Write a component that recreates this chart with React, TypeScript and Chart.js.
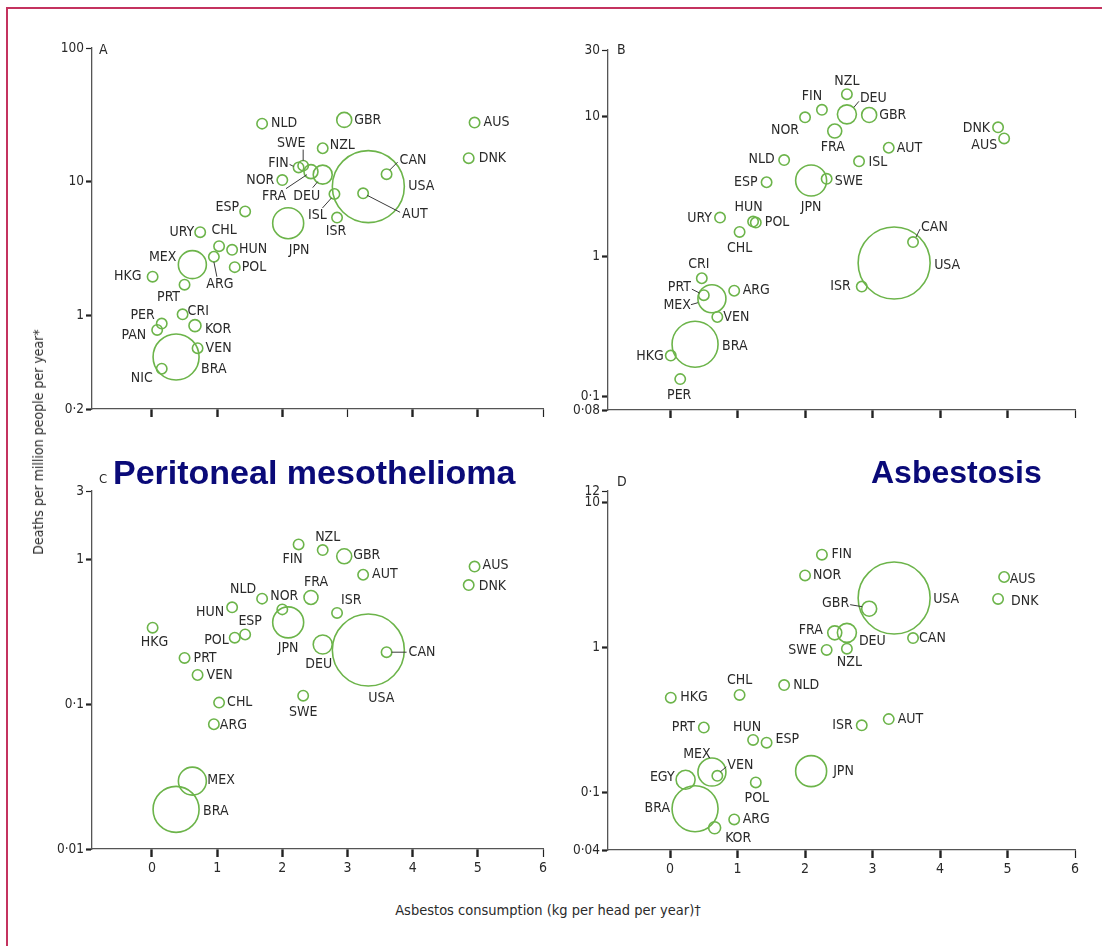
import React, { useEffect, useRef } from "react";
import { Chart, registerables } from "chart.js";
Chart.register(...registerables);

// ---------- DATA ----------
// Asbestos consumption (kg per head per year) by country
const consumption: Record<string, number> = {
  HKG: 0.01, PAN: 0.08, PER: 0.15, NIC: 0.15, EGY: 0.23, BRA: 0.37, CRI: 0.47,
  PRT: 0.5, MEX: 0.62, KOR: 0.66, VEN: 0.7, URY: 0.74, ARG: 0.95, CHL: 1.03,
  HUN: 1.23, POL: 1.27, ESP: 1.43, NLD: 1.69, NOR: 2.0, JPN: 2.09, FIN: 2.25,
  SWE: 2.32, FRA: 2.44, DEU: 2.62, NZL: 2.62, ISL: 2.8, ISR: 2.84, GBR: 2.95,
  AUT: 3.24, USA: 3.32, CAN: 3.6, DNK: 4.86, AUS: 4.95,
};

// Panel A
const countriesA = ["NLD","GBR","AUS","DNK","NZL","SWE","FIN","NOR","FRA","DEU","CAN","USA","AUT","ISL","ISR","ESP","JPN","URY","CHL","HUN","POL","ARG","MEX","HKG","PRT","CRI","PER","PAN","KOR","VEN","BRA","NIC"];
const deathsA = [27.2,29.0,27.7,15.0,17.8,13.2,12.8,10.3,11.9,11.3,11.4,9.2,8.2,8.1,5.4,6.0,4.9,4.2,3.3,3.1,2.3,2.75,2.4,1.95,1.7,1.02,0.87,0.78,0.84,0.57,0.49,0.4];
const yTicksA = [0.2, 1, 10, 100];

// Panel B
const countriesB = ["NZL","FIN","DEU","GBR","NOR","FRA","DNK","AUS","AUT","ISL","NLD","SWE","JPN","ESP","URY","HUN","POL","CHL","CAN","USA","CRI","ISR","ARG","PRT","MEX","VEN","BRA","HKG","PER"];
const deathsB = [14.5,11.2,10.4,10.3,9.9,7.9,8.4,7.0,6.0,4.8,4.9,3.6,3.5,3.4,1.9,1.78,1.75,1.5,1.27,0.9,0.7,0.61,0.57,0.53,0.5,0.37,0.236,0.196,0.133];
const yTicksB = [0.08, 0.1, 1, 10, 30];

// Panel C
const countriesC = ["FIN","NZL","GBR","AUS","AUT","DNK","FRA","NLD","NOR","HUN","ISR","ESP","JPN","HKG","POL","DEU","CAN","USA","PRT","VEN","SWE","CHL","ARG","MEX","BRA"];
const deathsC = [1.28,1.17,1.06,0.9,0.79,0.67,0.55,0.54,0.455,0.47,0.43,0.305,0.37,0.34,0.29,0.26,0.23,0.238,0.21,0.16,0.115,0.103,0.073,0.0295,0.0188];
const yTicksC = [0.01, 0.1, 1, 3];

// Panel D
const countriesD = ["FIN","NOR","AUS","USA","DNK","GBR","FRA","DEU","CAN","SWE","NZL","NLD","CHL","HKG","PRT","AUT","ISR","HUN","ESP","MEX","VEN","JPN","EGY","POL","BRA","ARG","KOR"];
const deathsD = [4.36,3.14,3.06,2.19,2.16,1.85,1.26,1.26,1.16,0.96,0.98,0.55,0.47,0.45,0.28,0.32,0.29,0.23,0.22,0.138,0.13,0.14,0.122,0.117,0.077,0.065,0.057];
const yTicksD = [0.04, 0.1, 1, 10, 12];

const xTicks = [0, 1, 2, 3, 4, 5, 6];

// ---------- STYLE / LAYOUT ----------
const bubbleRadius: Record<string, number> = {
  USA: 36, BRA: 23, JPN: 15.5, MEX: 14, EGY: 9.5, DEU: 9.5, GBR: 7.5, FRA: 7, KOR: 6,
};
const DEFAULT_R = 5.2;
const GREEN = "#6cb44a";
const TEXT = "#2a2a2a";
const FONT_FAMILY = '"DejaVu Sans Condensed", "Open Sans", sans-serif';
const LABEL_FONT = `14px ${FONT_FAMILY}`;

type Lay = [string, number, number, number[]?];
const layoutA: Record<string, Lay> = {
  NLD: ["l", 9, 0], GBR: ["l", 10, 0], AUS: ["l", 9, 0], DNK: ["l", 10, 0], NZL: ["l", 7, -3],
  SWE: ["c", -12, -22, [0, -5, 0, -16]], FIN: ["r", -10, -4, [-9, -3, -5, -1]], NOR: ["r", -8, 0],
  FRA: ["c", -37, 25, [-25, 17, -4, 3]], DEU: ["c", -16, 22, [-10, 13, -5, 7]],
  CAN: ["l", 13, -14, [3, -4, 11, -12]], USA: ["l", 40, 0], AUT: ["l", 39, 21, [4, 2, 37, 19]],
  ISL: ["c", -17, 21, [-12, 14, -3, 4]], ISR: ["c", -1, 14], ESP: ["r", -6, -4], JPN: ["c", 11, 27],
  URY: ["r", -6, 0], CHL: ["c", 5, -16], HUN: ["l", 7, 0], POL: ["l", 7, 0],
  ARG: ["c", 6, 28, [3, 20, 0, 5]], MEX: ["r", -16, -7], HKG: ["r", -11, 0], PRT: ["c", -16, 13],
  CRI: ["l", 5, -3], PER: ["r", -7, -8], PAN: ["r", -11, 5], KOR: ["l", 10, 4], VEN: ["l", 8, 0],
  BRA: ["l", 25, 12], NIC: ["r", -9, 10],
};
const layoutB: Record<string, Lay> = {
  NZL: ["c", 0, -13], FIN: ["c", -10, -13], DEU: ["l", 13, -16, [7, -7, 12, -13]], GBR: ["l", 10, 0],
  NOR: ["c", -20, 13], FRA: ["c", -2, 16], DNK: ["r", -8, 1], AUS: ["r", -7, 7], AUT: ["l", 8, 1],
  ISL: ["l", 9.5, 1], NLD: ["r", -9.5, -1], SWE: ["l", 8, 3], JPN: ["c", 0, 27], ESP: ["r", -9, 0],
  URY: ["r", -8, 1], HUN: ["c", -4.5, -14], POL: ["l", 9, 0], CHL: ["c", 0, 16],
  CAN: ["l", 8, -15, [3, -5, 7, -13]], USA: ["l", 40, 2], CRI: ["c", -3, -14], ISR: ["r", -11, 0],
  ARG: ["l", 8.5, 0], PRT: ["r", -13, -8, [-12, -6, -4, -2]], MEX: ["r", -21, 7, [-21, 6, -14, 4]],
  VEN: ["l", 6, 0], BRA: ["l", 27, 2], HKG: ["r", -7, 1], PER: ["c", -1, 16],
};
const layoutC: Record<string, Lay> = {
  FIN: ["c", -6, 15], NZL: ["c", 5, -13], GBR: ["l", 9, -1], AUS: ["l", 8, -1], AUT: ["l", 9, 0],
  DNK: ["l", 10, 1], FRA: ["c", 5, -15], NLD: ["c", -19, -9], NOR: ["c", 2, -13], HUN: ["r", -8, 5],
  ISR: ["l", 4, -13], ESP: ["c", 5, -13], JPN: ["c", 0, 26], HKG: ["c", 2, 15], POL: ["r", -6, 3],
  DEU: ["c", -4, 20], CAN: ["l", 22, 0, [5, 0, 20, 0]], USA: ["c", 13, 48], PRT: ["l", 9, 0],
  VEN: ["l", 9, 0], SWE: ["c", 0, 17], CHL: ["l", 8, 0], ARG: ["l", 6, 1], MEX: ["l", 15, -1],
  BRA: ["l", 27, 2],
};
const layoutD: Record<string, Lay> = {
  FIN: ["l", 9.5, 0], NOR: ["l", 8, 0], AUS: ["l", 5.6, 2], USA: ["l", 39, 1], DNK: ["l", 13, 2],
  GBR: ["r", -20, -5, [-19, -4, -7, -2]], FRA: ["r", -12, -2], DEU: ["l", 12, 9], CAN: ["l", 6, 0],
  SWE: ["r", -10, 0], NZL: ["c", 2.5, 14], NLD: ["l", 9, 0], CHL: ["c", 0, -15], HKG: ["l", 9.5, 0],
  PRT: ["r", -9, 0], AUT: ["l", 9, 0], ISR: ["r", -9, 0], HUN: ["c", -6, -13], ESP: ["l", 9, -3],
  MEX: ["c", -15, -18], VEN: ["l", 10, -10, [3, -4, 9, -9]], JPN: ["l", 22, 0], EGY: ["r", -11, -2],
  POL: ["c", 1, 16], BRA: ["r", -25, 0], ARG: ["l", 8.5, 0], KOR: ["l", 10.5, 11],
};

function fmt(v: number): string {
  return String(v).replace(".", "·");
}

function makeLabelPlugin(names: string[], layout: Record<string, Lay>) {
  return {
    id: "countryLabels",
    afterDatasetsDraw(chart: any) {
      const meta = chart.getDatasetMeta(0);
      const ctx = chart.ctx as CanvasRenderingContext2D;
      ctx.save();
      ctx.font = LABEL_FONT;
      ctx.fillStyle = TEXT;
      ctx.strokeStyle = "#3a3a3a";
      ctx.lineWidth = 1;
      ctx.textBaseline = "middle";
      meta.data.forEach((el: any, i: number) => {
        const L = layout[names[i]];
        if (!L) return;
        const [a, dx, dy, leader] = L;
        ctx.textAlign = a === "l" ? "left" : a === "r" ? "right" : "center";
        ctx.fillText(names[i], el.x + dx, el.y + dy);
        if (leader) {
          ctx.beginPath();
          ctx.moveTo(el.x + leader[0], el.y + leader[1]);
          ctx.lineTo(el.x + leader[2], el.y + leader[3]);
          ctx.stroke();
        }
      });
      ctx.restore();
    },
  };
}

type PanelProps = {
  names: string[];
  deaths: number[];
  yTicks: number[];
  layout: Record<string, Lay>;
  showX: boolean;
  thinX: number[];
  left: number; top: number; width: number; height: number;
  pad: { top: number; right: number };
  xHeight: number;
};

function Panel(p: PanelProps) {
  const ref = useRef<HTMLCanvasElement | null>(null);
  useEffect(() => {
    if (!ref.current) return;
    const data = p.names.map((c, i) => ({ x: consumption[c], y: p.deaths[i], r: bubbleRadius[c] ?? DEFAULT_R }));
    const yMax = p.yTicks[p.yTicks.length - 1];
    const chart = new Chart(ref.current, {
      type: "bubble",
      data: {
        datasets: [{
          data,
          backgroundColor: "rgba(0,0,0,0)",
          borderColor: GREEN,
          borderWidth: 1.6,
          hoverBorderWidth: 1.6,
          clip: false as any,
        }],
      },
      options: {
        animation: false,
        responsive: false,
        devicePixelRatio: 1,
        events: [],
        layout: { autoPadding: false, padding: { top: p.pad.top, right: p.pad.right, left: 0, bottom: 0 } },
        plugins: { legend: { display: false }, tooltip: { enabled: false } },
        scales: {
          x: {
            type: "linear",
            min: -0.92,
            max: 6,
            afterBuildTicks: (s: any) => { s.ticks = xTicks.map((v) => ({ value: v })); },
            afterFit: (s: any) => { s.height = p.xHeight; s.paddingLeft = 0; s.paddingRight = 0; },
            grid: {
              display: true, drawOnChartArea: false, drawTicks: true, tickLength: 8,
              tickWidth: (c: any) => (c.tick && p.thinX.includes(c.tick.value) ? 1.2 : 2.4),
              tickColor: "#222",
            },
            border: { display: true, color: "#555", width: 1.3 },
            ticks: {
              display: p.showX,
              padding: 3,
              color: TEXT,
              font: { family: FONT_FAMILY, size: 14 },
              maxRotation: 0,
              autoSkip: false,
              callback: (v: any) => fmt(Number(v)),
            },
          },
          y: {
            type: "logarithmic",
            min: p.yTicks[0],
            max: yMax,
            afterBuildTicks: (s: any) => { s.ticks = p.yTicks.map((v) => ({ value: v })); },
            afterFit: (s: any) => { s.width = 52; s.paddingTop = 0; s.paddingBottom = 0; },
            grid: {
              display: true, drawOnChartArea: false, drawTicks: true, tickLength: 6,
              tickWidth: (c: any) => (c.tick && c.tick.value === yMax ? 1.2 : 2.2),
              tickColor: "#222",
            },
            border: { display: true, color: "#555", width: 1.3 },
            ticks: {
              padding: 2,
              color: TEXT,
              font: { family: FONT_FAMILY, size: 13.5 },
              autoSkip: false,
              callback: (v: any) => fmt(Number(v)),
            },
          },
        },
      },
      plugins: [makeLabelPlugin(p.names, p.layout)],
    } as any);
    return () => chart.destroy();
  }, []);
  return (
    <canvas
      ref={ref}
      width={p.width}
      height={p.height}
      style={{ position: "absolute", left: p.left, top: p.top, width: p.width, height: p.height }}
    />
  );
}

const textBase: React.CSSProperties = {
  position: "absolute",
  fontFamily: FONT_FAMILY,
  color: TEXT,
  whiteSpace: "nowrap",
  lineHeight: 1,
};

const titleBase: React.CSSProperties = {
  position: "absolute",
  fontFamily: '"Liberation Sans", Arial, sans-serif',
  fontWeight: "bold",
  color: "#0a0a78",
  whiteSpace: "nowrap",
  lineHeight: 1,
};

export default function App() {
  return (
    <div style={{ position: "absolute", left: 0, top: 0, width: 1102, height: 946, background: "#fff", overflow: "hidden" }}>
      <div style={{ position: "absolute", left: 6, top: 7, right: 0, bottom: 0, borderTop: "2px solid #c4335f", borderLeft: "2px solid #c4335f" }} />

      <Panel names={countriesA} deaths={deathsA} yTicks={yTicksA} layout={layoutA} showX={false} thinX={[3, 6]}
        left={40} top={30} width={520} height={420} pad={{ top: 18, right: 17 }} xHeight={41} />
      <Panel names={countriesB} deaths={deathsB} yTicks={yTicksB} layout={layoutB} showX={false} thinX={[6]}
        left={556} top={30} width={540} height={420} pad={{ top: 20, right: 21 }} xHeight={40} />
      <Panel names={countriesC} deaths={deathsC} yTicks={yTicksC} layout={layoutC} showX={true} thinX={[6]}
        left={40} top={470} width={520} height={420} pad={{ top: 21, right: 17 }} xHeight={41} />
      <Panel names={countriesD} deaths={deathsD} yTicks={yTicksD} layout={layoutD} showX={true} thinX={[6]}
        left={556} top={470} width={540} height={420} pad={{ top: 21, right: 21 }} xHeight={40} />

      <div style={{ ...textBase, left: 99, top: 42, fontSize: 14 }}>A</div>
      <div style={{ ...textBase, left: 617, top: 42, fontSize: 14 }}>B</div>
      <div style={{ ...textBase, left: 99, top: 472, fontSize: 13 }}>C</div>
      <div style={{ ...textBase, left: 617, top: 474, fontSize: 14 }}>D</div>

      <div style={{ ...titleBase, left: 113, top: 455, fontSize: 34 }}>Peritoneal mesothelioma</div>
      <div style={{ ...titleBase, left: 871, top: 456, fontSize: 32 }}>Asbestosis</div>

      <div style={{ ...textBase, left: 38, top: 442, fontSize: 14, transform: "translate(-50%, -50%) rotate(-90deg)" }}>
        Deaths per million people per year*
      </div>
      <div style={{ ...textBase, left: 548, top: 910, fontSize: 14.5, transform: "translate(-50%, -50%)" }}>
        Asbestos consumption (kg per head per year)†
      </div>
    </div>
  );
}
